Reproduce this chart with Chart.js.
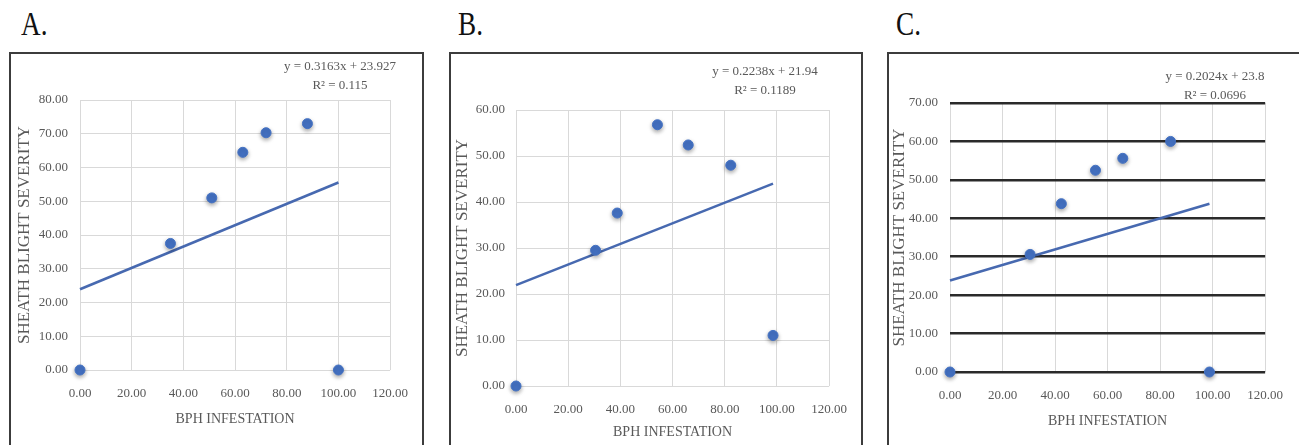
<!DOCTYPE html>
<html>
<head>
<meta charset="utf-8">
<script src="https://cdn.jsdelivr.net/npm/chart.js@4.4.1/dist/chart.umd.min.js"></script>
<style>
  body { margin: 0; background: #fff; width: 1299px; height: 445px; overflow: hidden; position: relative; }
  .lbl { position: absolute; font-family: 'Liberation Serif', serif; font-size: 34px; line-height: 34px; color: #111; transform: scaleX(0.8); transform-origin: left top; }
  .box { position: absolute; border: 2px solid #3c3c3c; box-sizing: border-box; }
  canvas { position: absolute; }
</style>
</head>
<body>
<div class="lbl" style="left:21px;top:7px">A.</div>
<div class="lbl" style="left:458px;top:7px">B.</div>
<div class="lbl" style="left:896px;top:7px">C.</div>
<div class="box" style="left:9px;top:52px;width:415px;height:420px"></div>
<div class="box" style="left:449px;top:52px;width:414px;height:420px"></div>
<div class="box" style="left:887px;top:52px;width:430px;height:420px"></div>
<canvas id="cA" style="left:9px;top:52px" width="415" height="393"></canvas>
<canvas id="cB" style="left:449px;top:52px" width="414" height="393"></canvas>
<canvas id="cC" style="left:887px;top:52px" width="412" height="393"></canvas>
<script>
// BPH infestation (x) vs sheath blight severity (y)
const bphA = [0, 35, 51, 63, 72, 88, 100];
const sevA = [0, 37.5, 51, 64.5, 70.3, 73, 0];
const trendXA = [0, 100];
const trendYA = [23.93, 55.56];

const bphB = [0, 30.5, 38.8, 54.2, 66, 82.3, 98.5];
const sevB = [0, 29.5, 37.6, 56.8, 52.4, 48, 11];
const trendXB = [0, 98.5];
const trendYB = [21.94, 43.98];

const bphC = [0, 30.5, 42.4, 55.4, 65.8, 84, 98.8];
const sevC = [0, 30.6, 43.8, 52.5, 55.6, 60, 0];
const trendXC = [0, 98.8];
const trendYC = [23.8, 43.8];

const eqA = ['y = 0.3163x + 23.927', 'R² = 0.115'];
const eqB = ['y = 0.2238x + 21.94', 'R² = 0.1189'];
const eqC = ['y = 0.2024x + 23.8', 'R² = 0.0696'];

const BLUE = '#4472C4';
const LINE = '#4769b0';
const GREY = '#595959';
const FONT = 'Liberation Serif';

function pts(xs, ys) { return xs.map((x, i) => ({ x: x, y: ys[i] })); }

function makeChart(id, cfg) {
  const eqPlugin = {
    id: 'eq',
    afterDraw(chart) {
      const ctx = chart.ctx;
      ctx.save();
      ctx.fillStyle = GREY;
      ctx.font = '13px "' + FONT + '"';
      ctx.textAlign = 'center';
      ctx.textBaseline = 'middle';
      ctx.fillText(cfg.eq[0], cfg.eqX, cfg.eqY);
      ctx.fillText(cfg.eq[1], cfg.eqX, cfg.eqY + 19);
      ctx.restore();
    }
  };
  const shadowPlugin = {
    id: 'shadow',
    beforeDatasetDraw(chart, args) {
      if (args.index === 1) {
        chart.ctx.save();
        chart.ctx.shadowColor = 'rgba(0,0,0,0.35)';
        chart.ctx.shadowBlur = 4;
        chart.ctx.shadowOffsetY = 2;
      }
    },
    afterDatasetDraw(chart, args) {
      if (args.index === 1) chart.ctx.restore();
    }
  };
  return new Chart(document.getElementById(id), {
    type: 'scatter',
    plugins: [eqPlugin, shadowPlugin],
    data: {
      datasets: [{
        type: 'line',
        data: cfg.trend,
        borderColor: LINE,
        borderWidth: 2.5,
        pointRadius: 0,
        fill: false,
        clip: false,
        order: 2
      }, {
        data: cfg.points,
        backgroundColor: BLUE,
        borderColor: BLUE,
        pointRadius: 5,
        clip: false,
        order: 1
      }]
    },
    options: {
      responsive: false,
      animation: false,
      layout: { padding: cfg.padding },
      plugins: { legend: { display: false }, tooltip: { enabled: false } },
      scales: {
        x: {
          type: 'linear',
          min: 0, max: 120,
          afterFit: (s) => { s.height = cfg.xH; },
          ticks: { stepSize: 20, padding: 16, color: GREY, font: { family: FONT, size: 13 }, callback: (v) => v.toFixed(2) },
          grid: { color: '#d9d9d9', drawTicks: false },
          border: { display: false },
          title: { display: true, text: 'BPH INFESTATION', color: GREY, font: { family: FONT, size: 14 }, padding: { top: 0, bottom: cfg.xTitlePad } }
        },
        y: {
          min: 0, max: cfg.yMax,
          afterFit: (s) => { s.width = cfg.yW; },
          ticks: { stepSize: 10, padding: cfg.yTickPad, color: GREY, font: { family: FONT, size: 13 }, callback: (v) => v.toFixed(2) },
          grid: cfg.yGrid,
          border: { display: false },
          title: { display: true, text: 'SHEATH BLIGHT SEVERITY', color: GREY, font: { family: FONT, size: 17 }, padding: { top: cfg.yTitlePad, bottom: 0 } }
        }
      }
    }
  });
}

makeChart('cA', {
  points: pts(bphA, sevA), trend: pts(trendXA, trendYA), eq: eqA,
  eqX: 331, eqY: 15, yMax: 80,
  padding: { left: 0, top: 48, right: 28, bottom: 0 },
  xH: 75, yW: 71, yTickPad: 12, xTitlePad: 17, yTitlePad: 5,
  yGrid: { color: '#d9d9d9', drawTicks: false }
});
makeChart('cB', {
  points: pts(bphB, sevB), trend: pts(trendXB, trendYB), eq: eqB,
  eqX: 316, eqY: 20, yMax: 60,
  padding: { left: 0, top: 58, right: 29, bottom: 0 },
  xH: 59, yW: 67, yTickPad: 11, xTitlePad: 4, yTitlePad: 3,
  yGrid: { color: '#d9d9d9', drawTicks: false }
});
makeChart('cC', {
  points: pts(bphC, sevC), trend: pts(trendXC, trendYC), eq: eqC,
  eqX: 328, eqY: 25, yMax: 70,
  padding: { left: 0, top: 51, right: 26, bottom: 0 },
  xH: 73, yW: 63, yTickPad: 12, xTitlePad: 15, yTitlePad: 2,
  yGrid: { color: '#2a2a2a', lineWidth: 2.5, drawTicks: false }
});
</script>
</body>
</html>
